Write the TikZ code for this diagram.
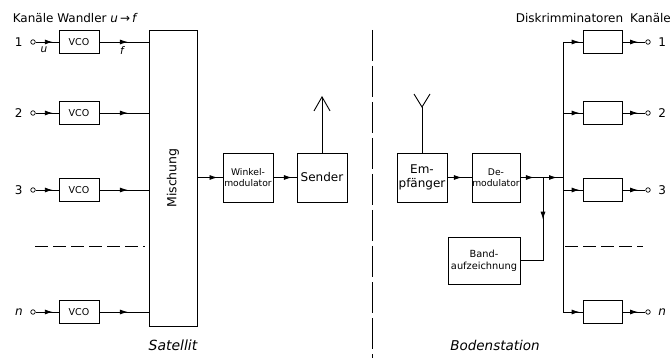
\documentclass[tikz,border=0pt]{standalone}
\usepackage{fontspec}
\setmainfont{DejaVu Sans}
\usetikzlibrary{arrows.meta,positioning,decorations.markings}

\tikzset{
  blk/.style={draw, line width=0.9pt, inner sep=0pt, align=center},
  vcobox/.style={blk, minimum width=40pt, minimum height=23pt, font=\fontsize{9.5}{10}\selectfont},
  discbox/.style={blk, minimum width=39pt, minimum height=23pt},
  bigbox/.style={blk, minimum width=50pt, minimum height=49pt},
  term/.style={circle, draw, line width=0.7pt, inner sep=0pt, minimum size=4.5pt},
  midarrow/.style={postaction={decorate}, decoration={markings,
      mark=at position #1 with {\arrow{Latex[length=8pt,width=5pt]}}}},
  sep/.style={line width=0.9pt, dash pattern=on 13pt off 5pt},
}

\begin{document}
\begin{tikzpicture}[x=1pt,y=-1pt,>=Latex,line width=0.9pt,font=\fontsize{12}{14}\selectfont]
    \useasboundingbox (0,0) rectangle (672,358);

    % Satellit: inputs and VCOs
    \node[anchor=west] (hdrL) at (9,18) {Kanäle Wandler \textit{u}\,→\,\textit{f}};
    \node[term] (in1) at (33,42) {};
    \node[term] (in2) at (33,113) {};
    \node[term] (in3) at (33,190) {};
    \node[term] (inn) at (33,312) {};
    \node[left=4pt of in1] (lin1) {1};
    \node[left=4pt of in2] (lin2) {2};
    \node[left=4pt of in3] (lin3) {3};
    \node[left=4pt of inn] (linn) {\textit{n}};
    \node[vcobox] (vco1) at (79,42) {VCO};
    \node[vcobox] (vco2) at (79,113) {VCO};
    \node[vcobox] (vco3) at (79,190) {VCO};
    \node[vcobox] (vcon) at (79,312) {VCO};
    \node[font=\fontsize{10.5}{12}\selectfont\itshape] (lblu) at (44,50) {u};
    \node[font=\fontsize{10.5}{12}\selectfont\itshape] (lblf) at (122,51) {f};
    \coordinate (dotsLa) at (35,246);
    \coordinate (dotsLb) at (145,246);
    \draw[sep] (dotsLa) -- (dotsLb);

    % Mischung, Winkelmodulator, Sender
    \node[blk, minimum width=48pt, minimum height=296pt] (misch) at (173,178) {};
    \node[rotate=90, font=\fontsize{12.5}{14}\selectfont] (mischtxt) at (misch.center) {Mischung};
    \node[bigbox, font=\fontsize{9.2}{11}\selectfont] (winkel) at (248,177.5) {Winkel-\\modulator};
    \node[bigbox] (sender) at (322,177.5) {Sender};
    \coordinate (antS) at (322,96);

    \foreach \r in {1,2,3,n} {
      \draw[midarrow=0.75] (in\r) -- (vco\r);
      \draw[midarrow=0.58] (vco\r) -- (vco\r -| misch.west);
    }
    \draw[midarrow=0.8] (misch.east |- winkel) -- (winkel);
    \draw[midarrow=0.8] (winkel) -- (sender);
    \draw[-{Straight Barb[length=14pt,width=16pt]}] (sender.north) -- (antS);

    % divider
    \coordinate (divT) at (372,30);
    \coordinate (divB) at (372,358);
    \draw[dash pattern=on 31pt off 5pt] (divT) -- (divB);

    % Bodenstation
    \node[bigbox] (empf) at (422,177.5) {Em-\\pfänger};
    \coordinate (antJ) at (422,107);
    \coordinate (antL) at (414,94);
    \coordinate (antR) at (430,94);
    \draw (empf.north) -- (antJ);
    \draw (antL) -- (antJ) -- (antR);
    \node[bigbox, minimum width=48pt, font=\fontsize{9.2}{11}\selectfont] (demod) at (496,177.5) {De-\\modulator};
    \node[blk, minimum width=72pt, minimum height=47pt, font=\fontsize{9.8}{12}\selectfont] (band) at (484,260.5) {Band-\\aufzeichnung};
    \coordinate (split) at (543,177.5);
    \coordinate (bus) at (563,177.5);
    \draw[midarrow=0.6] (empf) -- (demod);
    \draw[midarrow=0.6] (demod) -- (split);
    \draw[midarrow=0.7] (split) -- (bus);
    \draw[midarrow=0.4] (split) -- (split |- band) -- (band);

    % Diskriminatoren
    \node (hdrD) at (569.5,18) {Diskrimminatoren};
    \node (hdrK) at (650.5,18) {Kanäle};
    \node[discbox] (d1) at (602.5,42) {};
    \node[discbox] (d2) at (602.5,113) {};
    \node[discbox] (d3) at (602.5,190) {};
    \node[discbox] (dn) at (602.5,312) {};
    \node[term] (out1) at (648,42) {};
    \node[term] (out2) at (648,113) {};
    \node[term] (out3) at (648,190) {};
    \node[term] (outn) at (648,312) {};
    \node[right=4pt of out1] (lout1) {1};
    \node[right=4pt of out2] (lout2) {2};
    \node[right=4pt of out3] (lout3) {3};
    \node[right=4pt of outn] (loutn) {\textit{n}};
    \draw (bus |- d1) -- (bus |- dn);
    \foreach \r in {1,2,3,n} {
      \draw[midarrow=0.85] (bus |- d\r) -- (d\r);
      \draw[midarrow=0.68] (d\r) -- (out\r);
    }
    \coordinate (dotsRa) at (565,246);
    \coordinate (dotsRb) at (643,246);
    \draw[sep] (dotsRa) -- (dotsRb);

    % captions
    \node[font=\fontsize{14}{16}\selectfont\itshape] (capS) at (173,345) {Satellit};
    \node[font=\fontsize{13.5}{16}\selectfont\itshape] (capB) at (495,345) {Bodenstation};
\end{tikzpicture}
\end{document}
